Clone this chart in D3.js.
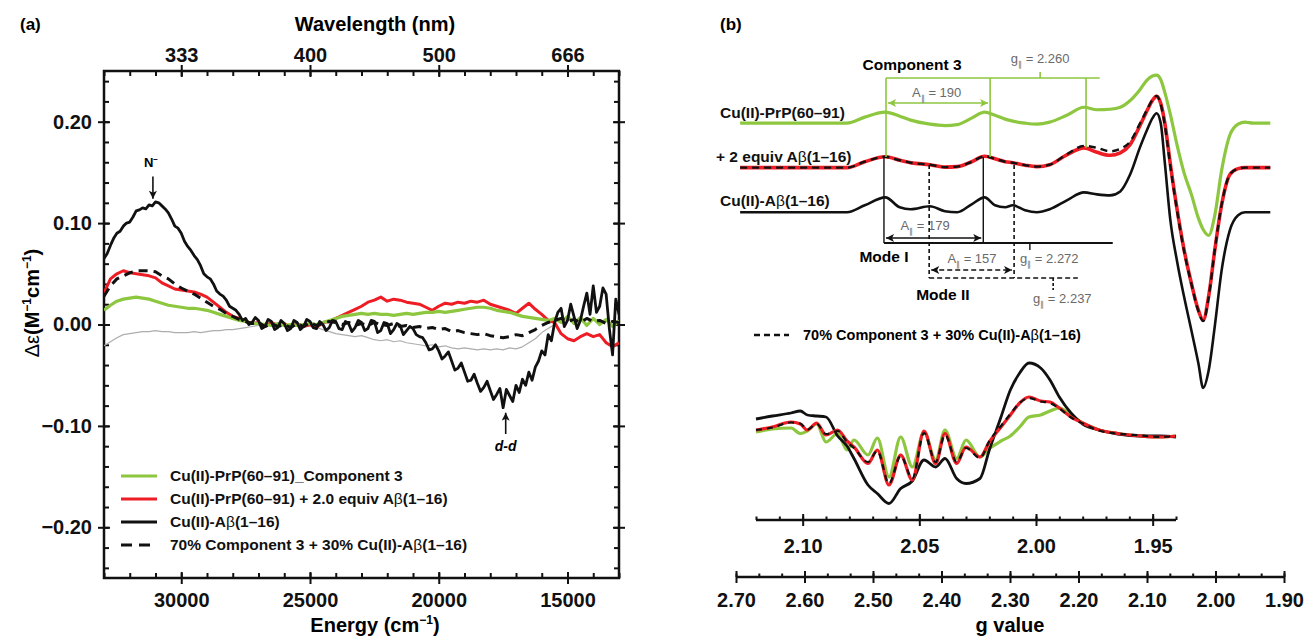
<!DOCTYPE html>
<html lang="en">
<head>
<meta charset="UTF-8">
<title>CD and EPR spectra: Cu(II)-PrP(60–91) with Aβ(1–16)</title>
<script src="https://d3js.org/d3.v7.min.js"></script>
<style>
  body { margin: 0; background: #fff; }
  text { font-family: "Liberation Sans", Arial, Helvetica, sans-serif; }
  .axis path { display: none; }
  .axis line { stroke: #111; stroke-width: 2; }
  .axis .tick text { font-family: "Liberation Sans", Arial, sans-serif; font-weight: bold; font-size: 20px; fill: #111; }
</style>
</head>
<body>
<svg id="fig" width="1308" height="637"></svg>
<script>
// ---------- panel (a): CD spectra ----------
// green/red/dashed/gray sampled every 250 cm-1, black every 125 cm-1 (noisier trace)
const energy = d3.range(33000, 12999, -250);
const energyFine = d3.range(33000, 12999, -125);

const cdBlack = [0.065,0.070,0.078,0.085,0.090,0.092,0.097,0.100,0.101,0.106,
  0.112,0.113,0.115,0.114,0.118,0.117,0.121,0.120,0.117,0.114,
  0.110,0.104,0.097,0.095,0.090,0.082,0.077,0.073,0.068,0.064,
  0.058,0.050,0.047,0.045,0.040,0.033,0.030,0.028,0.024,0.018,
  0.016,0.014,0.010,0.004,0.006,0.000,0.002,0.007,0.004,-0.004,
  -0.002,0.005,0.003,-0.005,-0.003,0.004,0.001,-0.006,-0.004,0.004,
  0.002,-0.005,-0.002,0.005,0.003,-0.003,-0.004,0.003,0.000,-0.006,
  -0.003,0.004,0.003,-0.004,-0.005,0.003,0.001,-0.007,-0.003,0.004,
  0.002,-0.006,-0.004,0.004,0.003,-0.008,-0.006,0.002,0.001,-0.009,
  -0.005,0.001,-0.001,-0.010,-0.006,-0.002,-0.004,-0.010,-0.012,-0.013,
  -0.018,-0.025,-0.024,-0.020,-0.026,-0.034,-0.031,-0.027,-0.036,-0.045,
  -0.043,-0.038,-0.047,-0.056,-0.055,-0.049,-0.058,-0.066,-0.062,-0.056,
  -0.065,-0.074,-0.069,-0.063,-0.082,-0.064,-0.070,-0.076,-0.060,-0.067,
  -0.054,-0.060,-0.047,-0.055,-0.042,-0.036,-0.026,-0.030,-0.010,-0.016,
  0.002,0.012,0.016,-0.002,0.004,0.020,0.008,-0.004,0.004,0.018,
  0.031,0.010,0.038,0.012,0.018,0.036,0.030,-0.004,-0.030,0.025,
  0.010];
const cdRed = [0.031,0.045,0.050,0.053,0.051,0.050,0.049,0.048,0.046,0.041,
  0.038,0.035,0.034,0.033,0.032,0.030,0.027,0.022,0.017,0.012,
  0.008,0.006,0.003,0.001,0.002,-0.002,0.002,-0.001,0.001,-0.003,
  0.001,-0.002,0.000,-0.003,0.002,0.003,0.006,0.009,0.012,0.015,
  0.018,0.022,0.024,0.027,0.023,0.025,0.024,0.022,0.021,0.020,
  0.017,0.014,0.018,0.021,0.020,0.022,0.021,0.023,0.022,0.024,
  0.020,0.018,0.016,0.014,0.011,0.016,0.021,0.015,0.010,0.004,
  0.002,-0.009,-0.014,-0.016,-0.012,-0.009,-0.012,-0.010,-0.018,-0.022,
  -0.018];
const cdGreen = [0.014,0.019,0.023,0.025,0.026,0.027,0.026,0.025,0.023,0.021,
  0.019,0.018,0.017,0.016,0.016,0.015,0.014,0.012,0.010,0.008,
  0.006,0.004,0.003,0.001,0.001,0.000,-0.001,0.001,-0.001,0.000,
  -0.001,0.000,0.001,0.000,0.002,0.004,0.006,0.008,0.009,0.010,
  0.011,0.010,0.011,0.010,0.010,0.009,0.010,0.011,0.010,0.011,
  0.012,0.012,0.013,0.012,0.013,0.014,0.015,0.016,0.017,0.017,
  0.016,0.014,0.013,0.012,0.010,0.008,0.007,0.006,0.005,0.004,
  0.006,0.002,0.008,0.001,0.007,-0.001,0.006,0.000,0.005,-0.002,
  0.004];
const cdMix = [0.028,0.038,0.045,0.048,0.051,0.053,0.053,0.053,0.052,0.048,
  0.045,0.040,0.036,0.033,0.030,0.026,0.022,0.018,0.015,0.011,
  0.008,0.005,0.003,0.001,0.002,-0.002,0.001,-0.002,0.000,-0.003,
  0.001,-0.002,0.002,-0.001,0.001,0.003,0.002,0.000,0.002,-0.001,
  0.001,-0.001,0.002,0.000,-0.001,0.001,-0.002,-0.001,-0.003,-0.002,
  -0.004,-0.003,-0.005,-0.004,-0.007,-0.006,-0.008,-0.009,-0.010,-0.009,
  -0.011,-0.012,-0.013,-0.012,-0.010,-0.011,-0.008,-0.005,-0.001,0.002,
  0.004,0.006,0.003,0.005,0.002,0.006,0.003,0.004,0.001,0.003,
  0.002];
const cdGray = [-0.021,-0.017,-0.013,-0.010,-0.009,-0.008,-0.007,-0.007,-0.006,-0.007,
  -0.007,-0.008,-0.008,-0.008,-0.007,-0.008,-0.007,-0.006,-0.006,-0.005,
  -0.005,-0.004,-0.003,-0.002,-0.001,0.000,-0.001,0.000,0.000,-0.001,
  0.000,-0.001,-0.002,-0.003,-0.005,-0.007,-0.009,-0.010,-0.011,-0.012,
  -0.011,-0.013,-0.015,-0.016,-0.015,-0.017,-0.016,-0.018,-0.019,-0.020,
  -0.021,-0.020,-0.022,-0.021,-0.023,-0.024,-0.023,-0.024,-0.025,-0.024,
  -0.025,-0.024,-0.025,-0.023,-0.024,-0.022,-0.018,-0.014,-0.008,-0.004,
  0.000];

const energyMajor = [30000, 25000, 20000, 15000];
const wavelengthLabels = ["333", "400", "500", "666"];
const energyMinor = d3.range(33000, 12999, -1000);
const cdMajor = [-0.2, -0.1, 0, 0.1, 0.2];
const cdMinor = d3.range(-24, 25, 2).map(d => d / 100);
const cdLegend = ["Cu(II)-PrP(60–91)_Component 3", "Cu(II)-PrP(60–91) + 2.0 equiv Aβ(1–16)",
  "Cu(II)-Aβ(1–16)", "70% Component 3 + 30% Cu(II)-Aβ(1–16)"];

// ---------- panel (b): EPR spectra (arbitrary units, relative to each baseline) ----------
const gTop = [2.694,2.607,2.538,2.512,2.482,2.461,2.445,2.417,2.395,2.377,2.356,2.337,2.322,2.307,2.296,
  2.278,2.261,2.242,2.217,2.192,2.173,2.154,2.139,2.125,2.110,2.100,2.092,2.086,2.080,2.074,
  2.066,2.056,2.046,2.035,2.025,2.018,2.010,2.001,1.991,1.979,1.967,1.957,1.945,1.920];
const epGreen = [0,0,0,0.12,0.22,0.14,0.06,-0.02,-0.05,-0.03,0.10,0.22,0.16,0.08,0.04,
  0.0,-0.02,0.02,0.16,0.32,0.27,0.28,0.32,0.45,0.68,0.87,0.95,0.97,0.88,0.62,
  0.18,-0.45,-1.00,-1.45,-1.92,-2.15,-2.27,-1.86,-0.95,-0.24,-0.02,0.02,0.0,0];
const epRed = [0,0,0,0.12,0.22,0.15,0.10,0.06,0.01,0.02,0.12,0.23,0.18,0.12,0.10,
  0.05,0.02,0.06,0.26,0.40,0.31,0.25,0.30,0.46,0.86,1.15,1.36,1.44,1.30,0.90,
  0.08,-0.85,-1.65,-2.35,-2.88,-3.08,-2.60,-1.66,-0.75,-0.14,-0.02,0.0,0.0,0];
const epMix = [0,0,0,0.12,0.22,0.15,0.10,0.06,0.01,0.02,0.12,0.23,0.18,0.12,0.10,
  0.05,0.02,0.06,0.27,0.44,0.40,0.33,0.38,0.52,0.90,1.17,1.37,1.45,1.28,0.86,
  0.04,-0.88,-1.68,-2.36,-2.90,-3.10,-2.62,-1.66,-0.74,-0.14,-0.02,0.0,0.0,0];
const epBlack = [0,0,0,0.14,0.30,0.10,0.06,0.12,0.02,0.0,0.16,0.30,0.14,0.10,0.14,
  0.04,0.0,0.06,0.24,0.40,0.36,0.34,0.42,0.75,1.32,1.66,1.90,2.00,1.80,1.00,
  -0.15,-1.00,-1.70,-2.40,-3.05,-3.55,-3.20,-2.30,-1.17,-0.36,-0.06,0.0,0.0,0];
const epOffsets = [2.2, 1.3, 0.4]; // green, red/mix, black baselines
const epLabels = ["Cu(II)-PrP(60–91)", "+ 2 equiv Aβ(1–16)", "Cu(II)-Aβ(1–16)"];

// enlarged perpendicular region
const gInset = [2.120,2.113,2.105,2.101,2.098,2.094,2.090,2.085,2.081,2.078,2.072,2.068,2.063,2.058,2.053,
  2.048,2.043,2.039,2.034,2.030,2.024,2.020,2.015,2.011,2.007,2.003,1.998,1.994,1.990,1.985,
  1.980,1.973,1.965,1.955,1.947,1.940];
const inBlack = [0.34,0.40,0.46,0.50,0.42,0.40,0.38,0.0,-0.20,-0.45,-0.98,-1.15,-1.35,-1.05,-0.90,
  -0.48,-0.62,-0.45,-0.85,-0.95,-0.85,-0.28,0.38,0.92,1.26,1.46,1.36,1.12,0.78,0.46,
  0.24,0.12,0.04,0.0,0.0,-0.02];
const inRed = [0.12,0.18,0.28,0.24,0.12,0.26,0.02,0.12,-0.10,-0.22,-0.55,-0.28,-0.98,-0.38,-0.88,
  0.10,-0.55,0.05,-0.55,-0.22,-0.42,-0.12,0.18,0.42,0.66,0.78,0.70,0.68,0.56,0.38,
  0.26,0.12,0.05,0.0,-0.02,0.0];
const inMix = [0.12,0.17,0.27,0.25,0.13,0.24,0.04,0.10,-0.12,-0.24,-0.52,-0.30,-0.95,-0.40,-0.85,
  0.06,-0.52,0.02,-0.52,-0.24,-0.44,-0.10,0.20,0.44,0.66,0.76,0.69,0.66,0.55,0.37,
  0.25,0.11,0.05,0.01,-0.02,0.0];
const inGreen = [0.08,0.14,0.16,0.05,0.10,0.24,-0.12,0.05,-0.28,-0.08,-0.38,-0.04,-0.82,-0.02,-0.62,
  0.08,-0.48,0.12,-0.45,-0.08,-0.42,-0.25,-0.10,0.0,0.18,0.38,0.42,0.50,0.56,0.42,
  0.26,0.12,0.05,0.0,-0.02,0.0];

const gMajor = [2.70, 2.60, 2.50, 2.40, 2.30, 2.20, 2.10, 2.00, 1.90];
const gMinor = d3.range(0, 25).map(k => 2.70 - k / 30);
const gInsetMajor = [2.10, 2.05, 2.00, 1.95];
const gInsetMinor = d3.range(0, 19).map(k => 2.12 - k / 100);

const GREEN = "#8dc63f", RED = "#ee1c24", INK = "#111";

const svg = d3.select("#fig");
const defs = svg.append("defs");

function arrowMarker(id, color, w, h) {
  defs.append("marker").attr("id", id)
    .attr("viewBox", "0 0 10 10").attr("refX", 10).attr("refY", 5)
    .attr("markerUnits", "userSpaceOnUse")
    .attr("markerWidth", w).attr("markerHeight", h)
    .attr("orient", "auto-start-reverse")
    .append("path").attr("d", "M0,0L10,5L0,10L2.5,5Z").attr("fill", color);
}
arrowMarker("arrBlack", INK, 10, 8);
arrowMarker("arrGreen", GREEN, 10, 8);

// text with super/subscripts: parts are strings or {t, sup, sub, w, s}
function richText(sel, parts, size) {
  let shift = 0;
  parts.forEach(p => {
    const o = typeof p === "string" ? { t: p } : p;
    const target = o.sup ? -Math.round(size * 0.42) : o.sub ? Math.round(size * 0.28) : 0;
    const ts = sel.append("tspan").attr("dy", target - shift).text(o.t);
    if (o.sup || o.sub) ts.attr("font-size", Math.round(size * 0.62));
    if (o.w) ts.attr("font-weight", o.w);
    if (o.s) ts.attr("font-style", o.s);
    shift = target;
  });
}
const betaParts = str => str.split("β").flatMap((p, i) => i ? [{ t: "β", w: "normal" }, p] : [p]);

// ================= panel (a) =================
const A = { left: 104, right: 619, top: 71, bottom: 578 };
const xE = d3.scaleLinear().domain([33000, 13000]).range([A.left, A.right]);
const yCD = d3.scaleLinear().domain([-0.25, 0.25]).range([A.bottom, A.top]);

defs.append("clipPath").attr("id", "clipA").append("rect")
  .attr("x", A.left).attr("y", A.top).attr("width", A.right - A.left).attr("height", A.bottom - A.top);

// minor ticks point into the frame
svg.append("g").attr("class", "axis").attr("transform", `translate(0,${A.bottom})`)
  .call(d3.axisBottom(xE).tickValues(energyMinor).tickSize(-5).tickFormat(""));
svg.append("g").attr("class", "axis").attr("transform", `translate(0,${A.top})`)
  .call(d3.axisTop(xE).tickValues(energyMinor).tickSize(-5).tickFormat(""));
svg.append("g").attr("class", "axis").attr("transform", `translate(${A.left},0)`)
  .call(d3.axisLeft(yCD).tickValues(cdMinor).tickSize(-5).tickFormat(""));
svg.append("g").attr("class", "axis").attr("transform", `translate(${A.right},0)`)
  .call(d3.axisRight(yCD).tickValues(cdMinor).tickSize(-5).tickFormat(""));

// major ticks cross the frame
svg.append("g").attr("class", "axis").attr("transform", `translate(0,${A.bottom})`)
  .call(d3.axisBottom(xE).tickValues(energyMajor).tickSize(6).tickPadding(9).tickFormat(d3.format("d")))
  .selectAll(".tick line").attr("y1", -6);
svg.append("g").attr("class", "axis").attr("transform", `translate(0,${A.top})`)
  .call(d3.axisTop(xE).tickValues(energyMajor).tickSize(6).tickPadding(3).tickFormat((d, i) => wavelengthLabels[i]))
  .selectAll(".tick line").attr("y1", 6);
svg.append("g").attr("class", "axis").attr("transform", `translate(${A.left},0)`)
  .call(d3.axisLeft(yCD).tickValues(cdMajor).tickSize(6).tickPadding(6).tickFormat(d3.format(".2f")))
  .selectAll(".tick line").attr("x1", 6);
svg.append("g").attr("class", "axis").attr("transform", `translate(${A.right},0)`)
  .call(d3.axisRight(yCD).tickValues(cdMajor).tickSize(6).tickFormat(""))
  .selectAll(".tick line").attr("x1", -6);
svg.selectAll(".axis .tick text").text(function () { return this.textContent.replace("-", "\u2212"); });

svg.append("rect").attr("x", A.left).attr("y", A.top)
  .attr("width", A.right - A.left).attr("height", A.bottom - A.top)
  .attr("fill", "none").attr("stroke", INK).attr("stroke-width", 2.5);

const cdSeries = {
  gray: { values: cdGray, x: energy, color: "#adadad", width: 1.2 },
  red: { values: cdRed, x: energy, color: RED, width: 3 },
  green: { values: cdGreen, x: energy, color: GREEN, width: 3.2 },
  black: { values: cdBlack, x: energyFine, color: INK, width: 2.8 },
  mix: { values: cdMix, x: energy, color: INK, width: 3, dash: "9,6" }
};
const plotA = svg.append("g").attr("clip-path", "url(#clipA)");
Object.values(cdSeries).forEach(s => {
  const line = d3.line().x((d, i) => xE(s.x[i])).y(d => yCD(d));
  plotA.append("path")
    .attr("d", line(s.values)).attr("fill", "none")
    .attr("stroke", s.color).attr("stroke-width", s.width)
    .attr("stroke-linejoin", "round").attr("stroke-dasharray", s.dash || null);
});

// legend (a)
const legA = svg.append("g").attr("font-size", 15.5).attr("font-weight", "bold").attr("fill", INK);
[cdSeries.green, cdSeries.red, cdSeries.black, cdSeries.mix].forEach((s, i) => {
  const y = 476 + i * 23;
  legA.append("line").attr("x1", 121).attr("x2", 157).attr("y1", y).attr("y2", y)
    .attr("stroke", s.color).attr("stroke-width", 3).attr("stroke-dasharray", s.dash ? "11,7" : null);
  richText(legA.append("text").attr("x", 170).attr("y", y + 5), betaParts(cdLegend[i]), 15.5);
});

// axis titles (a)
svg.append("text").attr("x", 20).attr("y", 30).attr("font-size", 17).attr("font-weight", "bold").text("(a)");
svg.append("text").attr("x", 375).attr("y", 31).attr("text-anchor", "middle")
  .attr("font-size", 20).attr("font-weight", "bold").text("Wavelength (nm)");
richText(svg.append("text").attr("x", 375).attr("y", 632).attr("text-anchor", "middle")
  .attr("font-size", 20).attr("font-weight", "bold"),
  ["Energy (cm", { t: "\u22121", sup: true }, ")"], 20);
richText(svg.append("text").attr("transform", "translate(39,303) rotate(-90)").attr("text-anchor", "middle")
  .attr("font-size", 20).attr("font-weight", "bold"),
  [{ t: "\u0394\u03b5", w: "normal" }, "(M", { t: "\u22121", sup: true }, "cm", { t: "\u22121", sup: true }, ")"], 20);

// band labels (a)
const nx = xE(31100);
richText(svg.append("text").attr("x", nx - 2).attr("y", yCD(0.155)).attr("text-anchor", "middle")
  .attr("font-size", 13).attr("font-weight", "bold"), ["N", { t: "\u2212", sup: true }], 13);
svg.append("line").attr("x1", nx).attr("x2", nx).attr("y1", yCD(0.146)).attr("y2", yCD(0.124))
  .attr("stroke", INK).attr("stroke-width", 1.6).attr("marker-end", "url(#arrBlack)");
const dx = xE(17400);
svg.append("line").attr("x1", dx).attr("x2", dx).attr("y1", yCD(-0.108)).attr("y2", yCD(-0.087))
  .attr("stroke", INK).attr("stroke-width", 1.6).attr("marker-end", "url(#arrBlack)");
svg.append("text").attr("x", dx).attr("y", yCD(-0.125)).attr("text-anchor", "middle")
  .attr("font-size", 14).attr("font-weight", "bold").attr("font-style", "italic").text("d-d");

// ================= panel (b) =================
const xG = d3.scaleLinear().domain([2.70, 1.90]).range([736, 1284]);
const yTop = d3.scaleLinear().domain([0, 4]).range([232, 34]);
const xIn = d3.scaleLinear().domain([2.12, 1.94]).range([756, 1176]);
const yIn = d3.scaleLinear().domain([-2, 2]).range([536, 336]);

function gAxis(scale, y, major, minor, fmt, pad) {
  svg.append("line").attr("x1", scale.range()[0]).attr("x2", scale.range()[1])
    .attr("y1", y).attr("y2", y).attr("stroke", INK).attr("stroke-width", 2.5);
  svg.append("g").attr("class", "axis").attr("transform", `translate(0,${y})`)
    .call(d3.axisBottom(scale).tickValues(minor).tickSize(-3.5).tickFormat(""));
  svg.append("g").attr("class", "axis").attr("transform", `translate(0,${y})`)
    .call(d3.axisBottom(scale).tickValues(major).tickSize(6).tickPadding(pad).tickFormat(fmt))
    .selectAll(".tick line").attr("y1", -6);
}
gAxis(xG, 577, gMajor, gMinor, d3.format(".2f"), 10);
gAxis(xIn, 520, gInsetMajor, gInsetMinor, d3.format(".2f"), 13);
svg.selectAll(".axis .tick line").attr("stroke-width", 2);

svg.append("text").attr("x", xG(2.30)).attr("y", 632).attr("text-anchor", "middle")
  .attr("font-size", 20).attr("font-weight", "bold").text("g value");
svg.append("text").attr("x", 720).attr("y", 30).attr("font-size", 17).attr("font-weight", "bold").text("(b)");

// stacked EPR spectra
const epSeries = [
  { values: epGreen, off: epOffsets[0], color: GREEN, width: 3.2 },
  { values: epRed, off: epOffsets[1], color: RED, width: 3.6 },
  { values: epMix, off: epOffsets[1], color: INK, width: 2.4, dash: "7,5" },
  { values: epBlack, off: epOffsets[2], color: INK, width: 2.6 }
];
epSeries.forEach(s => {
  const line = d3.line().curve(d3.curveMonotoneX).x((d, i) => xG(gTop[i])).y(d => yTop(d + s.off));
  svg.append("path").attr("d", line(s.values)).attr("fill", "none")
    .attr("stroke", s.color).attr("stroke-width", s.width)
    .attr("stroke-linejoin", "round").attr("stroke-dasharray", s.dash || null);
});
const epLab = svg.append("g").attr("font-size", 15.5).attr("font-weight", "bold").attr("fill", INK);
[118, 162, 206].forEach((y, i) =>
  richText(epLab.append("text").attr("x", i === 1 ? 716 : 720).attr("y", y), betaParts(epLabels[i]), 15.5));

// hyperfine stick diagrams
const ann = svg.append("g");
function seg(g1, v1, g2, v2, color, width, dash, marks) {
  const l = ann.append("line").attr("x1", xG(g1)).attr("y1", yTop(v1)).attr("x2", xG(g2)).attr("y2", yTop(v2))
    .attr("stroke", color).attr("stroke-width", width).attr("stroke-dasharray", dash || null);
  if (marks) l.attr("marker-start", marks).attr("marker-end", marks);
}
function parLabel(sym, value, g, v, anchor) {
  richText(ann.append("text").attr("x", xG(g)).attr("y", yTop(v)).attr("text-anchor", anchor)
    .attr("font-size", 13).attr("fill", "#6a6a6a"),
    [sym, { t: "\u2225", sub: true }, " = " + value], 13);
}
// Component 3
const c3Peaks = [2.481, 2.329, 2.189], c3Feet = [1.515, 1.515, 1.70];
c3Peaks.forEach((g, i) => seg(g, 3.11, g, c3Feet[i], GREEN, 1.6));
seg(2.481, 3.11, 2.169, 3.11, GREEN, 1.6);
seg(2.256, 3.11, 2.256, 3.23, GREEN, 1.6);
seg(2.478, 2.606, 2.332, 2.606, GREEN, 1.6, null, "url(#arrGreen)");
parLabel("A", "190", 2.407, 2.727, "middle");
parLabel("g", "2.260", 2.256, 3.41, "middle");
ann.append("text").attr("x", xG(2.443)).attr("y", yTop(3.27)).attr("text-anchor", "middle")
  .attr("font-size", 15.5).attr("font-weight", "bold").text("Component 3");
// Mode I
const m1Peaks = [2.484, 2.339];
m1Peaks.forEach(g => seg(g, 1.515, g, -0.222, INK, 1.4));
seg(2.484, -0.222, 2.150, -0.222, INK, 1.8);
seg(2.271, -0.222, 2.271, -0.364, INK, 1.4);
seg(2.481, -0.121, 2.342, -0.121, INK, 1.6, null, "url(#arrBlack)");
parLabel("A", "179", 2.424, 0.04, "middle");
parLabel("g", "2.272", 2.2854, -0.626, "start");
ann.append("text").attr("x", xG(2.484)).attr("y", yTop(-0.606)).attr("text-anchor", "middle")
  .attr("font-size", 15.5).attr("font-weight", "bold").text("Mode I");
// Mode II
const m2Peaks = [2.418, 2.294];
m2Peaks.forEach(g => seg(g, 1.354, g, -0.929, INK, 1.6, "4,3"));
seg(2.418, -0.929, 2.201, -0.929, INK, 1.6, "5,3");
seg(2.237, -0.929, 2.237, -1.172, INK, 1.6, "3,2");
seg(2.415, -0.768, 2.297, -0.768, INK, 1.6, "5,3", "url(#arrBlack)");
parLabel("A", "157", 2.3555, -0.626, "middle");
parLabel("g", "2.237", 2.2664, -1.434, "start");
ann.append("text").attr("x", xG(2.398)).attr("y", yTop(-1.374)).attr("text-anchor", "middle")
  .attr("font-size", 15.5).attr("font-weight", "bold").text("Mode II");

// legend (b)
svg.append("line").attr("x1", 754).attr("x2", 789).attr("y1", 335).attr("y2", 335)
  .attr("stroke", INK).attr("stroke-width", 2.4).attr("stroke-dasharray", "6,4");
richText(svg.append("text").attr("x", 803).attr("y", 340).attr("font-size", 14.5).attr("font-weight", "bold"),
  betaParts(cdLegend[3]), 14.5);

// enlarged region
const inSeries = [
  { values: inGreen, color: GREEN, width: 3.2 },
  { values: inBlack, color: INK, width: 2.8 },
  { values: inRed, color: RED, width: 3.2 },
  { values: inMix, color: INK, width: 2.2, dash: "6,5" }
];
const inLine = d3.line().curve(d3.curveMonotoneX).x((d, i) => xIn(gInset[i])).y(d => yIn(d));
inSeries.forEach(s => svg.append("path").attr("d", inLine(s.values)).attr("fill", "none")
  .attr("stroke", s.color).attr("stroke-width", s.width)
  .attr("stroke-linejoin", "round").attr("stroke-dasharray", s.dash || null));
</script>
</body>
</html>
